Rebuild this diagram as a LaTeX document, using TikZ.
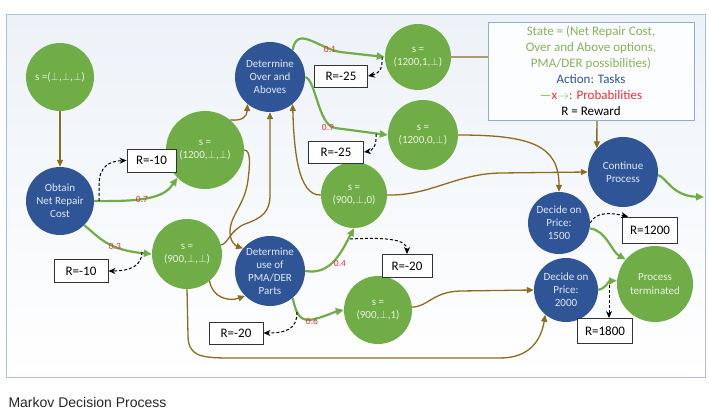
\documentclass[tikz,border=0pt]{standalone}
\usepackage{fontspec}
\setmainfont{Carlito}
\newfontfamily\capfont{Liberation Sans}
\usetikzlibrary{arrows.meta}

\definecolor{stgreen}{HTML}{70AD47}
\definecolor{sttext}{HTML}{E8F3E0}
\definecolor{tkblue}{HTML}{2F5597}
\definecolor{tktext}{HTML}{E0E8F4}
\definecolor{lnbrown}{HTML}{8C6D1F}
\definecolor{pbred}{HTML}{E8313A}
\definecolor{lggreen}{HTML}{86B55A}
\definecolor{frameblue}{HTML}{A9C3DE}
\definecolor{frametop}{HTML}{EDF2F8}
\definecolor{keyblue}{HTML}{8DAFD3}

\newcommand{\botv}{\ensuremath{\perp}}

\begin{document}
\begin{tikzpicture}[x=1pt, y=-1pt,
  state/.style={circle, fill=stgreen, text=sttext, inner sep=0pt, align=center,
                font=\fontsize{11}{13.5}\selectfont},
  task/.style={circle, fill=tkblue, text=tktext, inner sep=0pt, align=center,
               font=\fontsize{11}{13}\selectfont},
  rew/.style={draw=black!80, line width=0.9pt, fill=white, inner sep=0pt,
              font=\fontsize{13}{15}\selectfont},
  prob/.style={text=pbred, inner sep=0pt, font=\fontsize{9.5}{10}\selectfont},
  legendbox/.style={draw=keyblue, line width=0.9pt, fill=white!97!keyblue,
                    minimum width=206pt, minimum height=98pt, align=center,
                    font=\fontsize{13}{16}\selectfont},
  tran/.style={draw=stgreen, line width=2.2pt, -{Triangle[length=8pt,width=7pt]}},
  link/.style={draw=lnbrown, line width=1.3pt, -{Triangle[length=7pt,width=6pt]}},
  rarr/.style={draw=black, line width=1pt, dash pattern=on 3pt off 2pt,
               -{Stealth[length=7pt,width=6pt]}}
]
\useasboundingbox (0,0) rectangle (709,414);

% Frame
\fill[top color=frametop, bottom color=white] (6,15) rectangle (705,377);
\draw[frameblue, line width=1pt] (6,15) rectangle (705,377);

% States and tasks
\node[state, minimum size=68pt] (s0) at (60,77) {s =(\botv,\botv,\botv)};
\node[task, minimum size=68pt] (obtain) at (60,201) {Obtain\\Net Repair\\Cost};
\node[state, minimum size=78pt] (sA) at (205,150) {s =\\(1200,\botv,\botv)};
\node[task, minimum size=70pt] (over) at (270,77) {Determine\\Over and\\Aboves};
\node[state, minimum size=66pt] (sB) at (418,57) {s =\\(1200,1,\botv)};
\node[state, minimum size=70pt] (sC) at (423,135) {s =\\(1200,0,\botv)};
\node[state, minimum size=66pt] (sD) at (354,195) {s =\\(900,\botv,0)};
\node[state, minimum size=70pt] (sE) at (187,254) {s =\\(900,\botv,\botv)};
\node[task, minimum size=70pt] (pma) at (270,271) {Determine\\use of\\PMA/DER\\Parts};
\node[state, minimum size=68pt] (sF) at (378,310) {s =\\(900,\botv,1)};
\node[task, minimum size=70pt] (cont) at (623,172) {Continue\\Process};
\node[task, minimum size=62pt] (dec15) at (559,223) {Decide on\\Price:\\1500};
\node[task, minimum size=64pt] (dec20) at (566,290) {Decide on\\Price:\\2000};
\node[state, minimum size=76pt] (term) at (655,284) {Process\\terminated};
\coordinate (exit) at (704,197);

% Rewards
\node[rew, minimum width=49pt, minimum height=23pt] (rA) at (151.5,160.5) {R=-10};
\node[rew, minimum width=53pt, minimum height=22pt] (rB) at (341,76) {R=-25};
\node[rew, minimum width=55pt, minimum height=22pt] (rC) at (336,152) {R=-25};
\node[rew, minimum width=54pt, minimum height=23pt] (rD) at (81,271) {R=-10};
\node[rew, minimum width=50pt, minimum height=23pt] (rE) at (407,266) {R=-20};
\node[rew, minimum width=54pt, minimum height=22pt] (rF) at (236,333) {R=-20};
\node[rew, minimum width=55pt, minimum height=26pt] (rG) at (650,230) {R=1200};
\node[rew, minimum width=55pt, minimum height=25pt] (rH) at (605,331) {R=1800};

% Connections — tasks
\draw[link] (s0) -- (obtain);
\draw[link] (sA.50) .. controls (242,121) and (247,117) .. (over.-130);
\draw[link] (sA.east) .. controls (251,150) and (250,165) .. (248,180)
  .. controls (245,205) and (230,215) .. (230,232)
  .. controls (230,242) and (236,246) .. (pma.140);
\draw[link] (sE.15) .. controls (228,244) and (230,230) .. (245,224)
  .. controls (262,218) and (270,212) .. (270,195) -- (over.south);
\draw[link] (sE.-50) .. controls (212,297) and (228,302) .. (pma.-135);
\draw[link] (sD.west) .. controls (298,196) and (294,150) .. (over.-50);
\draw[link] (sD.east) .. controls (430,196) and (455,174) .. (500,173) -- (cont.west);
\draw[link] (sC.east) .. controls (530,135) and (559,145) .. (dec15.north);
\draw[link] (sB.east) -- (570,57) .. controls (597,57) .. (597,85) -- (cont.138);
\draw[link] (sF.5) .. controls (428,307) and (432,292) .. (460,291) -- (dec20.west);
\draw[link] (sE.south) -- (188,335) .. controls (188,356) and (200,358) .. (230,358)
  -- (500,358) .. controls (530,358) and (541,340) .. (dec20.-130);

% Connections — probabilities
\draw[tran] (obtain.east) .. controls (150,202) and (165,196) .. (sA.225);
\draw[tran] (obtain.-45) .. controls (100,238) and (108,250) .. (sE.180);
\draw[tran] (over.50) .. controls (297,25) and (318,48) .. (340,52) -- (sB.west);
\draw[tran] (over.east) .. controls (316,80) and (318,125) .. (335,128) -- (sC.west);
\draw[tran] (pma.east) .. controls (330,275) and (340,255) .. (sD.south);
\draw[tran] (pma.-50) .. controls (297,318) and (302,322) .. (315,319)
  .. controls (326,316) and (334,312) .. (sF.west);
\draw[tran] (cont.-5) .. controls (666,177) and (672,196) .. (exit);
\draw[tran] (dec15.-10) .. controls (606,230) and (612,252) .. (term.140);
\draw[tran] (dec20.east) .. controls (605,289) and (609,281) .. (term.175);

\node[prob] (p07) at (142,199) {0.7};
\node[prob] (p03) at (115,246) {0.3};
\node[prob] (p01) at (330,49) {0.1};
\node[prob] (p09) at (328,127) {0.9};
\node[prob] (p04) at (340,263) {0.4};
\node[prob] (p06) at (312,321) {0.6};

% Connections — rewards
\coordinate (c07) at (99,201);
\coordinate (c03) at (142,252);
\coordinate (c01) at (382,57);
\coordinate (c09) at (376,134);
\coordinate (c04) at (350,239);
\coordinate (c06) at (297,312);
\coordinate (c18) at (609,285);
\draw[rarr] (c07) -- (99,185) .. controls (99,166) and (110,161) .. (rA.west);
\draw[rarr] (c03) .. controls (142,266) and (130,271) .. (rD.east);
\draw[rarr] (c01) .. controls (383,70) and (378,74) .. (rB.east);
\draw[rarr] (c09) .. controls (377,146) and (372,151) .. (rC.east);
\draw[rarr] (c04) .. controls (390,237) and (407,240) .. (rE.north);
\draw[rarr] (c06) .. controls (297,330) and (285,333) .. (rF.east);
\draw[rarr] (dec15.east) .. controls (596,211) and (612,213) .. ([xshift=6pt]rG.north west);
\draw[rarr] (c18) -- (c18 |- rH.north);

% Legend
\node[legendbox] (key) at (591,71) {%
  \textcolor{lggreen}{State = (Net Repair Cost,}\\
  \textcolor{lggreen}{Over and Above options,}\\
  \textcolor{lggreen}{PMA/DER possibilities)}\\
  \textcolor{tkblue}{Action: Tasks}\\
  \textcolor{lggreen}{\textemdash}\textcolor{pbred}{x}\textcolor{lggreen}{$\rightarrow$}\textcolor{pbred}{: Probabilities}\\
  R = Reward};

% Caption
\node[anchor=west, text=black!85, font=\capfont\fontsize{14}{16}\selectfont] (caption)
  at (5,402) {Markov Decision Process};
\end{tikzpicture}
\end{document}
